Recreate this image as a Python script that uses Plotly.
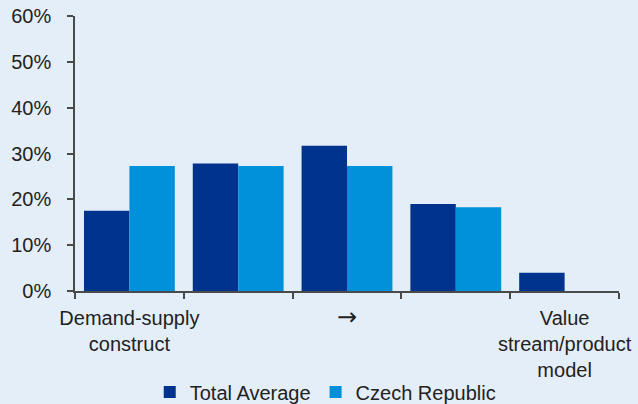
import plotly.graph_objects as go

categories = [
    "Demand-supply<br>construct",
    " ",
    "<span style='font-family:DejaVu Sans;font-size:24px'>→</span>",
    "  ",
    "Value<br>stream/product<br>model",
]
total_average = [17.5, 27.8, 31.7, 19.0, 4.0]
czech_republic = [27.3, 27.3, 27.3, 18.3, 0]

dark_blue = "#00338D"
light_blue = "#0091DA"
bg = "#E4EEF8"
font = dict(family="Liberation Sans, Arial, sans-serif", size=20, color="#222222")

fig = go.Figure()
fig.add_trace(go.Bar(x=categories, y=total_average, name="Total Average",
                     marker=dict(color=dark_blue, line=dict(width=0))))
fig.add_trace(go.Bar(x=categories, y=czech_republic, name="Czech Republic",
                     marker=dict(color=light_blue, line=dict(width=0))))

fig.update_layout(
    width=638, height=404,
    margin=dict(l=75, r=19, t=16, b=113),
    paper_bgcolor=bg, plot_bgcolor=bg,
    font=font,
    barmode="group", bargap=0.165, bargroupgap=0,
    showlegend=True,
    legend=dict(orientation="h", x=0.46, xanchor="center", yref="container",
                y=0.03, yanchor="middle", bgcolor="rgba(0,0,0,0)", font=font,
                itemwidth=30, traceorder="normal"),
    xaxis=dict(type="category", showline=True, linecolor="#4a4a4a", linewidth=1.5,
               ticks="outside", tickson="boundaries", ticklen=6, tickcolor="#4a4a4a",
               tickwidth=1.5, showgrid=False, zeroline=False, tickangle=0,
               ticklabelstandoff=8, automargin=False),
    yaxis=dict(range=[0, 60], dtick=10, ticksuffix="%", showline=True,
               linecolor="#4a4a4a", linewidth=1.5, ticks="outside", ticklen=6,
               tickcolor="#4a4a4a", tickwidth=1.5, showgrid=False, zeroline=False,
               ticklabelstandoff=12, automargin=False),
)

fig.write_html("out.html", config={"displayModeBar": False},
               post_script="document.body.style.margin='0';")
